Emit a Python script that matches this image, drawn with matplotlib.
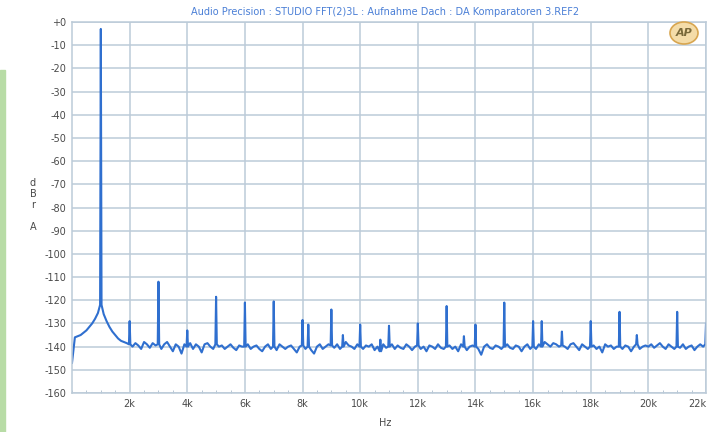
import numpy as np
import matplotlib.pyplot as plt
from matplotlib.patches import Rectangle, Ellipse

# FFT noise floor, one value per 100 Hz bin (dBrA)
noise = [
    -147, -136, -135.5, -135, -134, -133, -131.5, -130, -128, -125.5,
    -122, -126, -129, -131.5, -133.5, -135, -136.5, -137.5, -138, -138.5,
    -139, -140, -138.5, -139.5, -141, -138, -139, -140.5, -138.5, -139.5,
    -139, -141, -139, -138, -140, -142, -139, -140, -143, -139,
    -140, -138.5, -141, -139, -140, -142.5, -139, -138.5, -140, -141,
    -139, -140, -139.5, -141, -140, -139, -140.5, -141.5, -139.5, -140,
    -140, -139, -141, -140, -139.5, -141, -142, -140, -139, -141,
    -140, -141.5, -139, -140, -141, -140, -139.5, -141, -142.5, -140,
    -139.5, -141, -140, -141.5, -143, -140, -139, -141, -140, -139,
    -139.5, -140.5, -139, -141, -140, -138, -139.5, -140, -141, -139,
    -140, -141, -139.5, -140, -139, -141.5, -140, -142, -139, -140.5,
    -140, -139, -141, -139.5, -140.5, -141, -139, -140, -141.5, -140,
    -139.5, -141, -140, -142, -139.5, -140, -141, -139, -140.5, -141,
    -140, -139.5, -141, -140, -142, -139, -140, -141.5, -140, -139.5,
    -140, -141, -143.5, -140, -139, -140.5, -141, -139.5, -140, -141,
    -140, -139, -140.5, -141, -139.5, -140, -142, -140, -139, -141,
    -140, -141, -139, -140, -138, -139, -140, -138.5, -139, -140,
    -139.5, -140, -141, -139, -138.5, -140, -141.5, -139, -140, -141,
    -140, -139.5, -141, -140, -142.5, -139, -140, -139.5, -141, -140,
    -140, -141, -139.5, -140, -142, -140, -139, -141, -140, -139.5,
    -140, -139, -140.5, -139.5, -138.5, -140, -141, -139, -140, -141,
    -140, -140.5, -139, -141, -140, -139.5, -141.5, -140, -139, -140,
    -139,
]

# fundamental + harmonic / spurious lines (Hz, dBrA)
spike_hz = [1000, 2000, 3000, 4000, 5000, 6000, 7000, 8000, 8200, 9000,
            9400, 10000, 10700, 11000, 12000, 13000, 13600, 14000, 15000,
            16000, 16300, 17000, 18000, 19000, 19600, 21000, 22000]
spike_db = [-3, -129, -112, -133, -118.5, -121, -120.5, -128.5, -130.5, -124,
            -135, -130.5, -137, -131, -130, -122.5, -135.5, -130.5, -121,
            -129, -129, -133.5, -129, -125, -135, -125, -130]

yticks = list(range(0, -161, -10))
ylabels = ["+0"] + [str(v) for v in yticks[1:]]
xticks = [2000, 4000, 6000, 8000, 10000, 12000, 14000, 16000, 18000, 20000, 22000]
xlabels = ["2k", "4k", "6k", "8k", "10k", "12k", "14k", "16k", "18k", "20k", "22k"]

title = "Audio Precision : STUDIO FFT(2)3L : Aufnahme Dach : DA Komparatoren 3.REF2"

# noise bins plus a narrow spike at every listed line
freq = np.arange(len(noise)) * 100.0
lev = np.array(noise, dtype=float)
pts = dict(zip(freq, lev))
for f, d in zip(spike_hz, spike_db):
    base = np.interp(f, freq, lev)
    pts[f - 25.0] = base
    pts[float(f)] = d
    if f + 25.0 <= freq[-1]:
        pts[f + 25.0] = base
x = np.array(sorted(pts))
y = np.array([pts[k] for k in x])

fig = plt.figure(figsize=(7.16, 4.32), dpi=100)
ax = fig.add_axes([72 / 716, 39 / 432, 634 / 716, 371 / 432])

ax.plot(x, y, color="#2f6fcf", lw=1.5)
ax.set_xlim(0, 22000)
ax.set_ylim(-160, 0)

ax.set_xticks(xticks)
ax.set_xticklabels(xlabels)
ax.set_yticks(yticks)
ax.set_yticklabels(ylabels)
ax.set_xticks(np.arange(0, 22001, 500), minor=True)
ax.grid(True, which="major", color="#bccbd8", lw=1.1)
ax.tick_params(which="both", direction="in", length=0, labelsize=7,
               labelcolor="#4a4a4a", pad=4)
ax.tick_params(which="minor", length=2, color="#a8bccd")
ax.get_xticklabels()[-1].set_ha("right")
for s in ax.spines.values():
    s.set_color("#bccbd8")
    s.set_linewidth(1.1)

fig.text(385 / 716, 1 - 12 / 432, title, color="#4a7fd6", fontsize=7,
         ha="center", va="center")
fig.text(385 / 716, 1 - 423 / 432, "Hz", color="#4a4a4a", fontsize=7,
         ha="center", va="center")
fig.text(33 / 716, 1 - 205 / 432, "d\nB\nr\n\nA", color="#4a4a4a", fontsize=7,
         ha="center", va="center", linespacing=1.1)

# scanned page edge and the AP logo
fig.patches.append(Rectangle((0, 0), 5 / 716, 362 / 432, transform=fig.transFigure,
                             color="#b8dca6", zorder=0))
fig.patches.append(Ellipse((684 / 716, 1 - 33 / 432), 28 / 716, 22 / 432,
                           transform=fig.transFigure, facecolor="#f4dca8",
                           edgecolor="#d8a650", lw=1.2, zorder=5))
fig.text(684 / 716, 1 - 33 / 432, "AP", color="#7a6a3a", fontsize=8,
         fontweight="bold", fontstyle="italic", ha="center", va="center", zorder=6)

fig.savefig("out.png", dpi=100)
